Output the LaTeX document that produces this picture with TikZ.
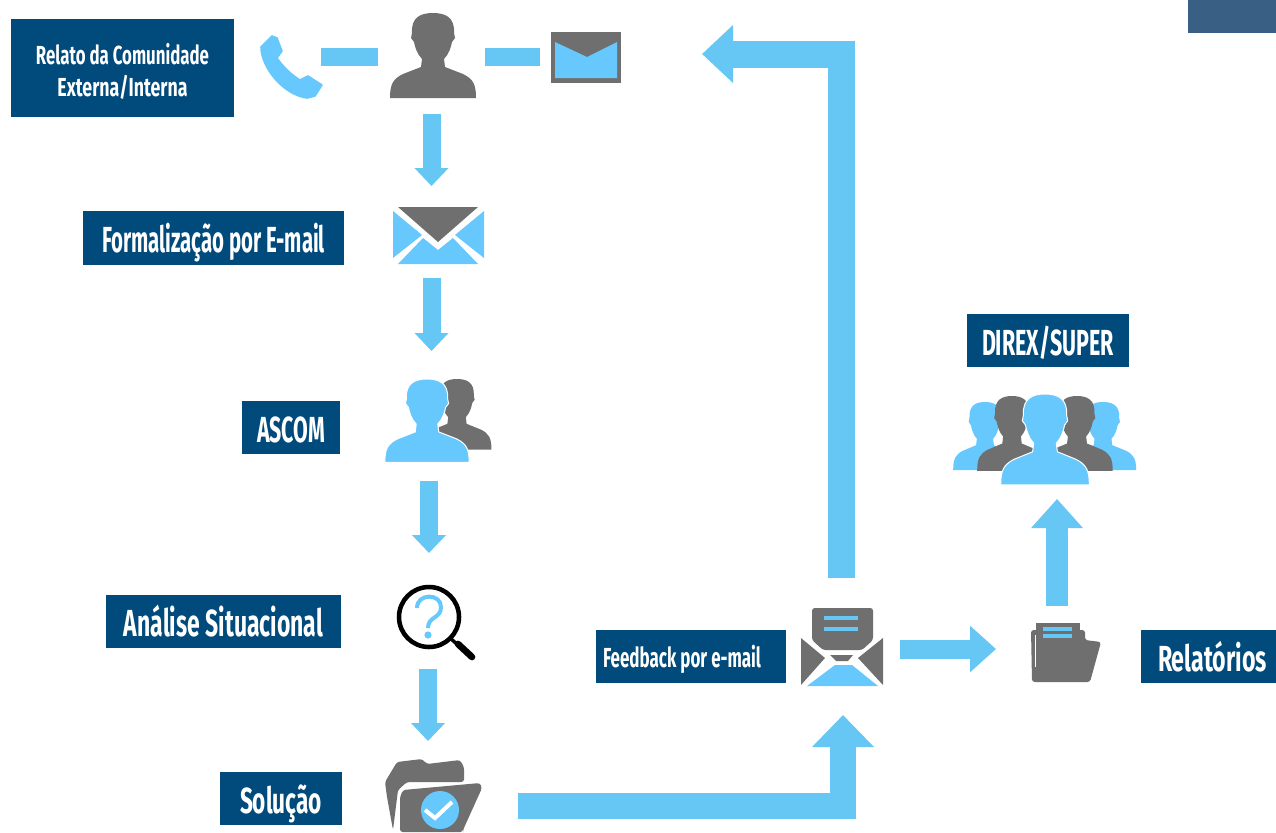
\documentclass[tikz,border=0pt]{standalone}
\usepackage{fontspec}
\usepackage{graphicx}
\setmainfont{Fira Sans}
\usetikzlibrary{arrows.meta}
\definecolor{navy}{HTML}{004A7C}
\definecolor{steel}{HTML}{3A5F85}
\definecolor{sky}{HTML}{66C6F4}
\definecolor{iconblue}{HTML}{66C8FD}
\definecolor{icongray}{HTML}{6F6F6F}
\newcommand\fitt[4][0.055em]{\resizebox{\dimexpr#2pt*3/4\relax}{\dimexpr#3pt*3/4\relax}{\raisebox{-#1}[0.69em][0pt]{\bfseries #4}}}
\newcommand\personicon[5]{\path[#5,shift={(#1,#2)},xscale=#3,yscale=#4]
 (-43,85) .. controls (-43,71) and (-40,66) .. (-30,61) -- (-12,54) -- (-11,46)
 .. controls (-16,41) and (-18,34) .. (-19,29) -- (-22,25) -- (-21,20)
 .. controls (-22,4) and (-12,0) .. (0,0) .. controls (12,0) and (22,4) .. (21,20)
 -- (22,25) -- (19,29) .. controls (18,34) and (16,41) .. (11,46) -- (12,54) -- (30,61)
 .. controls (40,66) and (43,71) .. (43,85) -- cycle;}
\tikzset{
 labelbox/.style 2 args={fill=navy,text=white,inner sep=0pt,outer sep=0pt,minimum width=#1*0.75pt,minimum height=#2*0.75pt,align=center},
 flow/.style={draw=sky,line cap=butt,line join=miter},
 bar/.style={flow,line width=18*0.75pt},
 downarrow/.style={flow,line width=18*0.75pt,-{Triangle[length=18*0.75pt,width=33*0.75pt]}},
 gr/.style={fill=icongray},
 bl/.style={fill=iconblue},
 halo/.style={fill=iconblue,draw=white,line width=0.75pt},
}
\begin{document}
\begin{tikzpicture}[x=0.75pt,y=-0.75pt]
\useasboundingbox (0,0) rectangle (1276,832);
\fill[white] (0,0) rectangle (1276,832);
\node[fill=steel,inner sep=0pt,minimum width=88*0.75pt,minimum height=33*0.75pt] (corner) at (1232,16.5) {};

% label boxes
\node[labelbox={223}{98},font=\fontsize{10}{24}\selectfont] (relato) at (122.5,68) {\fitt[0.115em]{173}{18}{Relato da Comunidade}\\\fitt[0.115em]{130}{18}{Externa/Interna}};
\node[labelbox={261}{54}] (formal) at (213.5,238) {\fitt{223}{25}{Formalização por E-mail}};
\node[labelbox={98}{53}] (ascom) at (291,427.5) {\fitt{68}{25}{ASCOM}};
\node[labelbox={235}{53}] (analise) at (223.5,621.5) {\fitt{199}{26}{Análise Situacional}};
\node[labelbox={122}{53}] (solucao) at (281,798.5) {\fitt{82}{25}{Solução}};
\node[labelbox={190}{53}] (feedback) at (691,656.5) {\hspace*{-13.5pt}\fitt{158}{19}{Feedback por e-mail}};
\node[labelbox={135}{53}] (relatorios) at (1208.5,656.5) {\hspace*{6pt}\fitt{109}{25}{Relatórios}};
\node[labelbox={162}{53}] (direx) at (1048,340.5) {\fitt{132}{25}{DIREX/SUPER}};

% connector end points
\coordinate (phoneR) at (321,57); \coordinate (userL) at (378,57);
\coordinate (userR) at (485,57); \coordinate (mailL) at (540,57);
\coordinate (userS) at (431.5,114); \coordinate (formalN) at (431.5,186);
\coordinate (formalS) at (431.5,278); \coordinate (ascomN) at (431.5,351);
\coordinate (ascomS) at (429,481); \coordinate (lensN) at (429,553);
\coordinate (lensS) at (428,669); \coordinate (folderN) at (428,741);
\coordinate (folderE) at (518,806); \coordinate (bend1) at (843,806); \coordinate (envS) at (843,715);
\coordinate (envN) at (841.5,578); \coordinate (bend2) at (841.5,54); \coordinate (mailE) at (702,54);
\coordinate (envE) at (900,649); \coordinate (foldW) at (996,649);
\coordinate (foldN) at (1057,606); \coordinate (groupS) at (1057,499);

% connectors
\draw[bar] (phoneR) -- (userL);
\draw[bar] (userR) -- (mailL);
\draw[downarrow] (userS) -- (formalN);
\draw[downarrow] (formalS) -- (ascomN);
\draw[downarrow] (ascomS) -- (lensN);
\draw[downarrow] (lensS) -- (folderN);
\draw[flow,line width=26*0.75pt,-{Triangle[length=32*0.75pt,width=60*0.75pt]}] (folderE) -- (bend1) -- (envS);
\draw[flow,line width=27*0.75pt,-{Triangle[length=31*0.75pt,width=56*0.75pt]}] (envN) -- (bend2) -- (mailE);
\draw[flow,line width=19*0.75pt,-{Triangle[length=26*0.75pt,width=45*0.75pt]}] (envE) -- (foldW);
\draw[flow,line width=22*0.75pt,-{Triangle[length=29*0.75pt,width=50*0.75pt]}] (foldN) -- (groupS);

% phone
\filldraw[iconblue,line width=1.2pt,line join=round] (272,36) -- (277,38) -- (282,51) -- (277,58)
 .. controls (284,68) and (292,75) .. (300,80) -- (308,76) -- (322,85) -- (315,96) -- (307,98)
 .. controls (283,95) and (261,67) .. (261,47) -- cycle;
% user
\personicon{433}{13}{1}{1}{gr}
% small mail
\fill[gr] (551,32) rectangle (621,83);
\fill[bl] (555,42) -- (587,57) -- (617,42) -- (617,78) -- (555,78) -- cycle;
% big mail
\fill[gr] (398,207) -- (478,207) -- (438,242) -- cycle;
\fill[bl] (393,211) -- (422,235) -- (393,258) -- cycle;
\fill[bl] (484,211) -- (455,235) -- (484,258) -- cycle;
\fill[bl] (398,264) -- (423,238) -- (438,250) -- (453,238) -- (478,264) -- cycle;
% ascom
\personicon{457}{379}{.8}{.83}{gr}
\personicon{427}{379}{.98}{.98}{halo}
% magnifier
\draw[black,line width=3.4pt] (429,617) circle (30);
\draw[black,line width=2.6pt] (450,638) -- (458,645);
\draw[black,line width=5pt,line cap=round] (458,644) -- (472,657);
\draw[iconblue,line width=3pt] (417,608) .. controls (417,593) and (441,593) .. (441,607) .. controls (441,619) and (428,616) .. (428,628);
\fill[iconblue] (428,635) circle (3.6);
% solution folder
\fill[gr,rounded corners=2pt] (397,762) -- (422,759) -- (427,764) -- (460,760) -- (464,767) -- (464,782) -- (407,782) -- (398,790) -- (393,830) -- (387,797) -- (385,782) -- cycle;
\fill[gr,rounded corners=2pt] (403,790) -- (480,783) -- (482,788) -- (463,830) -- (463,832) -- (400,832) -- (400,797) -- cycle;
\fill[bl] (440,810) circle (19);
\draw[white,line width=3pt] (425,810) -- (435,818) -- (452,802);
% feedback envelope
\fill[gr,rounded corners=2pt] (812,608) -- (873,608) -- (873,640) -- (862,650) -- (823,650) -- (812,640) -- cycle;
\fill[sky] (824,616) rectangle (858,620);
\fill[sky] (824,627) rectangle (858,631);
\fill[gr] (801,638) -- (825,658) -- (801,685) -- cycle;
\fill[gr] (883,638) -- (858,658) -- (883,685) -- cycle;
\fill[gr] (830,655) -- (853,655) -- (848,661) -- (836,661) -- cycle;
\fill[bl] (835,665) -- (852,665) -- (878,686) -- (807,686) -- cycle;
% report folder
\fill[gr] (1036,623) rectangle (1080,640);
\fill[gr,rounded corners=2pt] (1031,630) -- (1085,630) -- (1085,640) -- (1101,642) -- (1090,682) -- (1032,682) -- cycle;
\fill[white] (1034.5,635) rectangle (1036,667);
\fill[sky] (1043,627) rectangle (1072,631);
\fill[sky] (1043,634) rectangle (1072,638);
% group
\personicon{985}{402}{.74}{.8}{bl}
\personicon{1103}{402}{.77}{.8}{bl}
\personicon{1012}{396}{.81}{.88}{gr}
\personicon{1077}{396}{.83}{.88}{gr}
\personicon{1045}{394}{1.03}{1.07}{halo}
\end{tikzpicture}
\end{document}
